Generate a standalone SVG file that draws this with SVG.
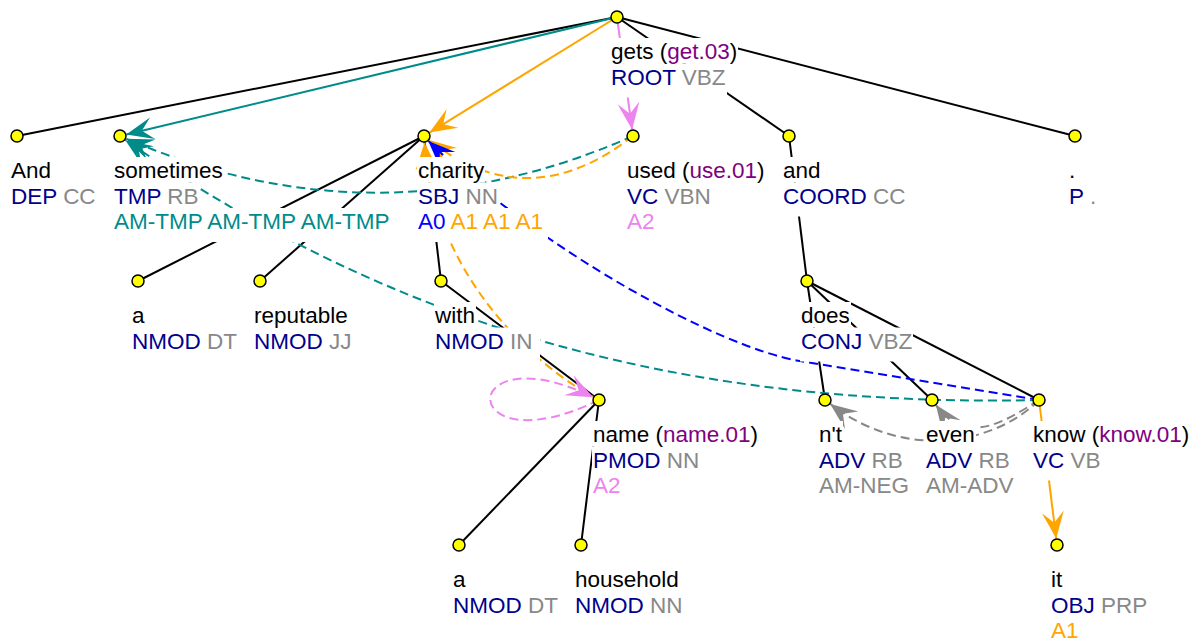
<svg xmlns="http://www.w3.org/2000/svg" width="1194" height="642" viewBox="0 0 1194 642">
<defs>
<style>
.t{font-family:"Liberation Sans",Arial,sans-serif;font-size:22.5px;fill:#000}
.n{fill:#00008b}.g{fill:#888888}.p{fill:#800080}.tl{fill:#008b8b}.o{fill:#ffa500}.v{fill:#ee82ee}.b{fill:#0000ff}
.bg{fill:#ffffff}
#tree line{stroke:#000;stroke-width:2}
.node circle{fill:#ffff00;stroke:#000;stroke-width:1.5}
#srl path{fill:none;stroke-width:2}
#srl .d{stroke-dasharray:9,5}
</style>
<marker id="mT" viewBox="-29 -13 31 26" refX="0" refY="0" markerWidth="31" markerHeight="26" markerUnits="userSpaceOnUse" orient="auto"><path d="M0,0 L-27,-11 L-16,0 L-27,11 Z" fill="#008b8b"/></marker>
<marker id="mO" viewBox="-29 -13 31 26" refX="0" refY="0" markerWidth="31" markerHeight="26" markerUnits="userSpaceOnUse" orient="auto"><path d="M0,0 L-27,-11 L-16,0 L-27,11 Z" fill="#ffa500"/></marker>
<marker id="mV" viewBox="-29 -13 31 26" refX="0" refY="0" markerWidth="31" markerHeight="26" markerUnits="userSpaceOnUse" orient="auto"><path d="M0,0 L-27,-11 L-16,0 L-27,11 Z" fill="#ee82ee"/></marker>
<marker id="mG" viewBox="-29 -13 31 26" refX="0" refY="0" markerWidth="31" markerHeight="26" markerUnits="userSpaceOnUse" orient="auto"><path d="M0,0 L-27,-11 L-16,0 L-27,11 Z" fill="#888888"/></marker>
<marker id="mB" viewBox="-29 -13 31 26" refX="0" refY="0" markerWidth="31" markerHeight="26" markerUnits="userSpaceOnUse" orient="auto"><path d="M0,0 L-27,-11 L-16,0 L-27,11 Z" fill="#0000ff"/></marker>
</defs>
<rect width="1194" height="642" fill="#ffffff"/>
<g id="connectors">
<g id="tree">
<line x1="617" y1="17" x2="17" y2="136"/>
<line x1="617" y1="17" x2="789" y2="136"/>
<line x1="617" y1="17" x2="1075" y2="136"/>
<line x1="424" y1="136" x2="138" y2="281"/>
<line x1="424" y1="136" x2="260" y2="281"/>
<line x1="424" y1="136" x2="441" y2="281"/>
<line x1="441" y1="281" x2="599" y2="400"/>
<line x1="599" y1="400" x2="459" y2="545"/>
<line x1="599" y1="400" x2="581" y2="545"/>
<line x1="789" y1="136" x2="807" y2="281"/>
<line x1="807" y1="281" x2="825" y2="400"/>
<line x1="807" y1="281" x2="932" y2="400"/>
<line x1="807" y1="281" x2="1039" y2="400"/>
</g>
<g id="srl">
<path d="M617,17 L126.3,134.5" stroke="#008b8b" marker-end="url(#mT)"/>
<path d="M617,17 L429.5,132.6" stroke="#ffa500" marker-end="url(#mO)"/>
<path d="M617,17 L632.1,129.6" stroke="#ee82ee" marker-end="url(#mV)"/>
<path class="d" d="M633,136 Q380,248 126.4,138.8" stroke="#008b8b" marker-end="url(#mT)"/>
<path class="d" d="M633,136 Q528,218 429.1,140" stroke="#ffa500" marker-end="url(#mO)"/>
<path class="d" d="M599,400 C540,370 435,280 424.5,142.5" stroke="#ffa500" marker-end="url(#mO)"/>
<path class="d" d="M599,400 C455,470 455,330 593.2,397.2" stroke="#ee82ee" marker-end="url(#mV)"/>
<path class="d" d="M1039,400 L800,361 C720,348 540,250 428.3,140.9" stroke="#0000ff" marker-end="url(#mB)"/>
<path class="d" d="M1039,400 C600,410 330,280 125.4,140.2" stroke="#008b8b" marker-end="url(#mT)"/>
<path class="d" d="M1039,400 C1000,440 910,465 830.2,403.9" stroke="#888888" marker-end="url(#mG)"/>
<path class="d" d="M1039,400 C1000,425 965,445 935.8,404.8" stroke="#888888" marker-end="url(#mG)"/>
<path d="M1039,400 L1056.2,538.6" stroke="#ffa500" marker-end="url(#mO)"/>
</g>
</g>

<g id="n-gets" class="node">
<rect class="bg" x="610" y="38" width="128" height="25.5"/>
<rect class="bg" x="610" y="63.5" width="117" height="34"/>
<text class="t" x="611" y="59">gets (<tspan class="p">get.03</tspan>)</text>
<text class="t" x="611" y="84.5"><tspan class="n">ROOT</tspan> <tspan class="g">VBZ</tspan></text>
<circle cx="617" cy="17" r="6"/>
</g>

<g id="n-And" class="node">
<rect class="bg" x="10" y="157" width="42" height="25.5"/>
<rect class="bg" x="10" y="182.5" width="87" height="34"/>
<text class="t" x="11" y="178">And</text>
<text class="t" x="11" y="203.5"><tspan class="n">DEP</tspan> <tspan class="g">CC</tspan></text>
<circle cx="17" cy="136" r="6"/>
</g>

<g id="n-sometimes" class="node">
<rect class="bg" x="113" y="157" width="111" height="25.5"/>
<rect class="bg" x="113" y="182.5" width="87" height="25.5"/>
<rect class="bg" x="113" y="208" width="281" height="34"/>
<text class="t" x="114" y="178">sometimes</text>
<text class="t" x="114" y="203.5"><tspan class="n">TMP</tspan> <tspan class="g">RB</tspan></text>
<text class="t tl" x="114" y="229">AM-TMP AM-TMP AM-TMP</text>
<circle cx="120" cy="136" r="6"/>
</g>

<g id="n-charity" class="node">
<rect class="bg" x="417" y="157" width="68" height="25.5"/>
<rect class="bg" x="417" y="182.5" width="82" height="25.5"/>
<rect class="bg" x="417" y="208" width="131" height="34"/>
<text class="t" x="418" y="178">charity</text>
<text class="t" x="418" y="203.5"><tspan class="n">SBJ</tspan> <tspan class="g">NN</tspan></text>
<text class="t" x="418" y="229"><tspan class="b">A0</tspan> <tspan class="o">A1 A1 A1</tspan></text>
<circle cx="424" cy="136" r="6"/>
</g>

<g id="n-used" class="node">
<rect class="bg" x="626" y="157" width="140" height="25.5"/>
<rect class="bg" x="626" y="182.5" width="86" height="25.5"/>
<rect class="bg" x="626" y="208" width="30" height="34"/>
<text class="t" x="627" y="178">used (<tspan class="p">use.01</tspan>)</text>
<text class="t" x="627" y="203.5"><tspan class="n">VC</tspan> <tspan class="g">VBN</tspan></text>
<text class="t v" x="627" y="229">A2</text>
<circle cx="633" cy="136" r="6"/>
</g>

<g id="n-and" class="node">
<rect class="bg" x="782" y="157" width="40" height="25.5"/>
<rect class="bg" x="782" y="182.5" width="125" height="34"/>
<text class="t" x="783" y="178">and</text>
<text class="t" x="783" y="203.5"><tspan class="n">COORD</tspan> <tspan class="g">CC</tspan></text>
<circle cx="789" cy="136" r="6"/>
</g>

<g id="n-period" class="node">
<rect class="bg" x="1068" y="157" width="9" height="25.5"/>
<rect class="bg" x="1068" y="182.5" width="30" height="34"/>
<text class="t" x="1069" y="178">.</text>
<text class="t" x="1069" y="203.5"><tspan class="n">P</tspan> <tspan class="g">.</tspan></text>
<circle cx="1075" cy="136" r="6"/>
</g>

<g id="n-a1" class="node">
<rect class="bg" x="131" y="302" width="15" height="25.5"/>
<rect class="bg" x="131" y="327.5" width="107" height="34"/>
<text class="t" x="132" y="323">a</text>
<text class="t" x="132" y="348.5"><tspan class="n">NMOD</tspan> <tspan class="g">DT</tspan></text>
<circle cx="138" cy="281" r="6"/>
</g>

<g id="n-reputable" class="node">
<rect class="bg" x="253" y="302" width="96" height="25.5"/>
<rect class="bg" x="253" y="327.5" width="106" height="34"/>
<text class="t" x="254" y="323">reputable</text>
<text class="t" x="254" y="348.5"><tspan class="n">NMOD</tspan> <tspan class="g">JJ</tspan></text>
<circle cx="260" cy="281" r="6"/>
</g>

<g id="n-with" class="node">
<rect class="bg" x="434" y="302" width="42" height="25.5"/>
<rect class="bg" x="434" y="327.5" width="106" height="34"/>
<text class="t" x="435" y="323">with</text>
<text class="t" x="435" y="348.5"><tspan class="n">NMOD</tspan> <tspan class="g">IN</tspan></text>
<circle cx="441" cy="281" r="6"/>
</g>

<g id="n-does" class="node">
<rect class="bg" x="800" y="302" width="51" height="25.5"/>
<rect class="bg" x="800" y="327.5" width="113" height="34"/>
<text class="t" x="801" y="323">does</text>
<text class="t" x="801" y="348.5"><tspan class="n">CONJ</tspan> <tspan class="g">VBZ</tspan></text>
<circle cx="807" cy="281" r="6"/>
</g>

<g id="n-name" class="node">
<rect class="bg" x="592" y="421" width="167" height="25.5"/>
<rect class="bg" x="592" y="446.5" width="108" height="25.5"/>
<rect class="bg" x="592" y="472" width="30" height="34"/>
<text class="t" x="593" y="442">name (<tspan class="p">name.01</tspan>)</text>
<text class="t" x="593" y="467.5"><tspan class="n">PMOD</tspan> <tspan class="g">NN</tspan></text>
<text class="t v" x="593" y="493">A2</text>
<circle cx="599" cy="400" r="6"/>
</g>

<g id="n-nt" class="node">
<rect class="bg" x="818" y="421" width="25" height="25.5"/>
<rect class="bg" x="818" y="446.5" width="86" height="25.5"/>
<rect class="bg" x="818" y="472" width="92" height="34"/>
<text class="t" x="819" y="442">n't</text>
<text class="t" x="819" y="467.5"><tspan class="n">ADV</tspan> <tspan class="g">RB</tspan></text>
<text class="t g" x="819" y="493">AM-NEG</text>
<circle cx="825" cy="400" r="6"/>
</g>

<g id="n-even" class="node">
<rect class="bg" x="925" y="421" width="51" height="25.5"/>
<rect class="bg" x="925" y="446.5" width="86" height="25.5"/>
<rect class="bg" x="925" y="472" width="90" height="34"/>
<text class="t" x="926" y="442">even</text>
<text class="t" x="926" y="467.5"><tspan class="n">ADV</tspan> <tspan class="g">RB</tspan></text>
<text class="t g" x="926" y="493">AM-ADV</text>
<circle cx="932" cy="400" r="6"/>
</g>

<g id="n-know" class="node">
<rect class="bg" x="1032" y="421" width="160" height="25.5"/>
<rect class="bg" x="1032" y="446.5" width="70" height="34"/>
<text class="t" x="1033" y="442">know (<tspan class="p">know.01</tspan>)</text>
<text class="t" x="1033" y="467.5"><tspan class="n">VC</tspan> <tspan class="g">VB</tspan></text>
<circle cx="1039" cy="400" r="6"/>
</g>

<g id="n-a2" class="node">
<rect class="bg" x="452" y="566" width="15" height="25.5"/>
<rect class="bg" x="452" y="591.5" width="107" height="34"/>
<text class="t" x="453" y="587">a</text>
<text class="t" x="453" y="612.5"><tspan class="n">NMOD</tspan> <tspan class="g">DT</tspan></text>
<circle cx="459" cy="545" r="6"/>
</g>

<g id="n-household" class="node">
<rect class="bg" x="574" y="566" width="106" height="25.5"/>
<rect class="bg" x="574" y="591.5" width="116" height="34"/>
<text class="t" x="575" y="587">household</text>
<text class="t" x="575" y="612.5"><tspan class="n">NMOD</tspan> <tspan class="g">NN</tspan></text>
<circle cx="581" cy="545" r="6"/>
</g>

<g id="n-it" class="node">
<rect class="bg" x="1050" y="566" width="13" height="25.5"/>
<rect class="bg" x="1050" y="591.5" width="98" height="25.5"/>
<rect class="bg" x="1050" y="617" width="30" height="25"/>
<text class="t" x="1051" y="587">it</text>
<text class="t" x="1051" y="612.5"><tspan class="n">OBJ</tspan> <tspan class="g">PRP</tspan></text>
<text class="t o" x="1051" y="638">A1</text>
<circle cx="1057" cy="545" r="6"/>
</g>
</svg>
